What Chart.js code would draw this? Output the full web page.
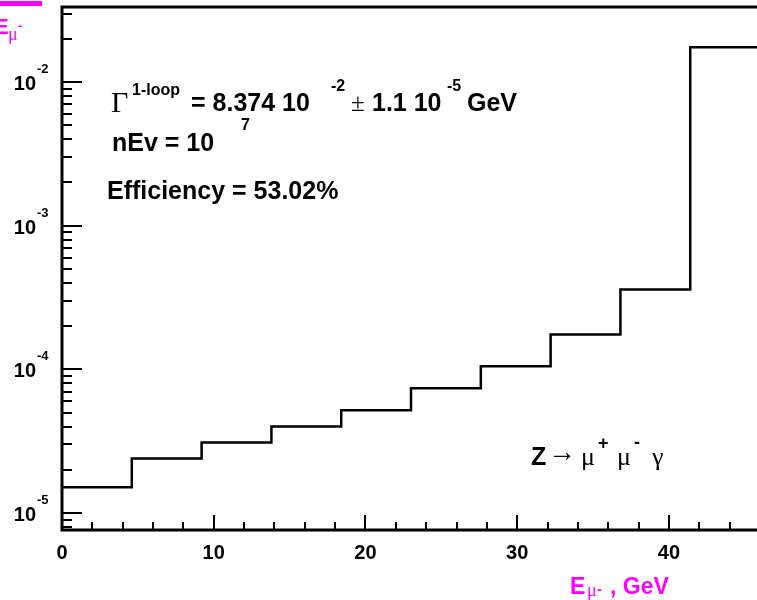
<!DOCTYPE html>
<html>
<head>
<meta charset="utf-8">
<script src="https://cdn.jsdelivr.net/npm/chart.js@4/dist/chart.umd.min.js"></script>
<style>
    html, body { margin: 0; padding: 0; background: #fff; overflow: hidden; }
    #wrap { width: 757px; height: 600px; }
</style>
</head>
<body>
<div id="wrap"><canvas id="histo" width="757" height="600"></canvas></div>
<script>
// Histogram data: bin edges (GeV) and bin contents
const binEdges = [0, 4.6, 9.2, 13.8, 18.4, 23.0, 27.6, 32.2, 36.8, 41.4, 46.0];
const binValues = [1.51e-5, 2.40e-5, 3.10e-5, 4.01e-5, 5.19e-5, 7.38e-5, 1.05e-4, 1.75e-4, 3.6e-4, 1.75e-2];

// Axis ticks
const xMajorTicks = [0, 10, 20, 30, 40];
const xMinorStep = 2;
const yDecades = [-5, -4, -3, -2];

// Axis ranges
const xMin = 0;
const xMax = 45.8;
const yMin = 7.62e-6;
const yMax = 3.33e-2;

const MAGENTA = '#ff00ff';
const SANS = '"Liberation Sans", Arial, sans-serif';
const SERIF = '"Liberation Serif", "Times New Roman", serif';

// build step points (left edge of every bin + closing right edge)
const stepPoints = binValues.map((v, i) => ({ x: binEdges[i], y: v }));
stepPoints.push({ x: binEdges[binEdges.length - 1], y: binValues[binValues.length - 1] });

// draw a row of text pieces
function drawPieces(ctx, pieces, color) {
    ctx.fillStyle = color || '#000';
    ctx.textAlign = 'left';
    ctx.textBaseline = 'alphabetic';
    pieces.forEach(p => {
        ctx.font = p.font;
        ctx.fillText(p.text, p.x, p.y);
    });
}

// ROOT-like frame, ticks and labels
const rootAxes = {
    id: 'rootAxes',
    afterDraw: function (chart) {
        const ctx = chart.ctx;
        const area = chart.chartArea;
        const xs = chart.scales.x;
        const ys = chart.scales.y;

        ctx.save();
        ctx.strokeStyle = '#000';
        ctx.lineWidth = 3;
        ctx.lineCap = 'square';

        // frame
        ctx.beginPath();
        ctx.moveTo(area.right + 5, area.top);
        ctx.lineTo(area.left, area.top);
        ctx.lineTo(area.left, area.bottom);
        ctx.lineTo(area.right + 5, area.bottom);
        ctx.stroke();

        // x ticks
        ctx.lineWidth = 2;
        ctx.lineCap = 'butt';
        ctx.beginPath();
        for (let v = xMin; v <= xMax; v += xMinorStep) {
            const px = Math.round(xs.getPixelForValue(v));
            const len = (v % 10 === 0) ? 15 : 8;
            ctx.moveTo(px, area.bottom);
            ctx.lineTo(px, area.bottom - len);
        }
        // y ticks
        yDecades.concat([-6, -1]).forEach(d => {
            for (let m = 1; m <= 9; m++) {
                const val = m * Math.pow(10, d);
                if (val < yMin || val > yMax) continue;
                const py = Math.round(ys.getPixelForValue(val));
                const len = (m === 1) ? 20 : 10;
                ctx.moveTo(area.left, py);
                ctx.lineTo(area.left + len, py);
            }
        });
        ctx.stroke();

        // x labels
        ctx.fillStyle = '#000';
        ctx.font = 'bold 20px ' + SANS;
        ctx.textAlign = 'center';
        ctx.textBaseline = 'alphabetic';
        xMajorTicks.forEach(v => {
            ctx.fillText(String(v), xs.getPixelForValue(v), 559);
        });

        // y labels 10^n
        yDecades.forEach(d => {
            const py = ys.getPixelForValue(Math.pow(10, d));
            ctx.font = 'bold 20px ' + SANS;
            ctx.textAlign = 'right';
            ctx.fillText('10', 36, py + 8);
            ctx.font = 'bold 13px ' + SANS;
            ctx.textAlign = 'left';
            ctx.fillText(String(d), 37, py - 9);
        });

        // x axis title
        drawPieces(ctx, [
            { text: 'E', font: 'bold 23px ' + SANS, x: 570, y: 594 },
            { text: 'μ', font: '18px ' + SERIF, x: 587, y: 596 },
            { text: '-', font: 'bold 15px ' + SANS, x: 597, y: 594 },
            { text: ', GeV', font: 'bold 23px ' + SANS, x: 610, y: 594 }
        ], MAGENTA);

        // y axis title (clipped at the left edge)
        ctx.fillStyle = MAGENTA;
        ctx.fillRect(0, 1, 42, 5);
        drawPieces(ctx, [
            { text: 'E', font: 'bold 22px ' + SANS, x: -6, y: 34 },
            { text: 'μ', font: '18px ' + SERIF, x: 8, y: 40 },
            { text: '-', font: 'bold 13px ' + SANS, x: 18, y: 30 }
        ], MAGENTA);

        // annotations
        const big = 'bold 25px ' + SANS;
        const sup = 'bold 16px ' + SANS;
        drawPieces(ctx, [
            { text: 'Γ', font: '30px ' + SERIF, x: 111, y: 112 },
            { text: '1-loop', font: sup, x: 132, y: 95 },
            { text: '= 8.374 10', font: big, x: 191, y: 111 },
            { text: '-2', font: sup, x: 331, y: 91 },
            { text: '±', font: '25px ' + SERIF, x: 351, y: 111 },
            { text: '1.1 10', font: big, x: 372, y: 111 },
            { text: '-5', font: sup, x: 447, y: 91 },
            { text: 'GeV', font: big, x: 467, y: 111 },
            { text: 'nEv = 10', font: big, x: 112, y: 151 },
            { text: '7', font: sup, x: 241, y: 130 },
            { text: 'Efficiency = 53.02%', font: big, x: 107, y: 199 },
            { text: 'Z', font: big, x: 531, y: 465 },
            { text: '→', font: '28px ' + SERIF, x: 548, y: 461 },
            { text: 'μ', font: '26px ' + SERIF, x: 581, y: 465 },
            { text: '+', font: 'bold 18px ' + SANS, x: 598, y: 449 },
            { text: 'μ', font: '26px ' + SERIF, x: 617, y: 465 },
            { text: '-', font: 'bold 18px ' + SANS, x: 634, y: 448 },
            { text: 'γ', font: '26px ' + SERIF, x: 652, y: 465 }
        ]);

        ctx.restore();
    }
};

new Chart(document.getElementById('histo'), {
    type: 'line',
    data: {
        datasets: [{
            data: stepPoints,
            stepped: 'before',
            borderColor: '#000',
            borderWidth: 2.5,
            pointRadius: 0,
            fill: false
        }]
    },
    options: {
        responsive: false,
        animation: false,
        devicePixelRatio: 1,
        layout: {
            padding: { left: 62, top: 7, right: 0, bottom: 70 }
        },
        plugins: {
            legend: { display: false },
            tooltip: { enabled: false }
        },
        scales: {
            x: {
                type: 'linear',
                display: false,
                min: xMin,
                max: xMax
            },
            y: {
                type: 'logarithmic',
                display: false,
                min: yMin,
                max: yMax
            }
        }
    },
    plugins: [rootAxes]
});
</script>
</body>
</html>
